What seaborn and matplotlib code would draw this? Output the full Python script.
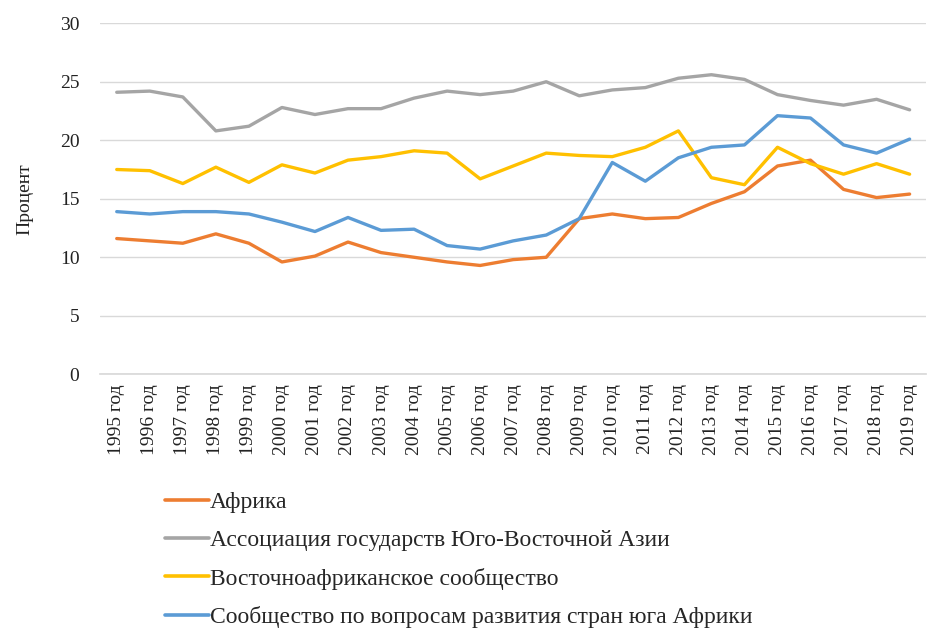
import pandas as pd
import seaborn as sns
import matplotlib.pyplot as plt

years = [f"{y} год" for y in range(1995, 2020)]

africa = [11.6, 11.4, 11.2, 12.0, 11.2, 9.6, 10.1, 11.3, 10.4, 10.0, 9.6, 9.3, 9.8,
          10.0, 13.3, 13.7, 13.3, 13.4, 14.6, 15.6, 17.8, 18.3, 15.8, 15.1, 15.4]
asean = [24.1, 24.2, 23.7, 20.8, 21.2, 22.8, 22.2, 22.7, 22.7, 23.6, 24.2, 23.9, 24.2,
         25.0, 23.8, 24.3, 24.5, 25.3, 25.6, 25.2, 23.9, 23.4, 23.0, 23.5, 22.6]
eac = [17.5, 17.4, 16.3, 17.7, 16.4, 17.9, 17.2, 18.3, 18.6, 19.1, 18.9, 16.7, 17.8,
       18.9, 18.7, 18.6, 19.4, 20.8, 16.8, 16.2, 19.4, 18.0, 17.1, 18.0, 17.1]
sadc = [13.9, 13.7, 13.9, 13.9, 13.7, 13.0, 12.2, 13.4, 12.3, 12.4, 11.0, 10.7, 11.4,
        11.9, 13.3, 18.1, 16.5, 18.5, 19.4, 19.6, 22.1, 21.9, 19.6, 18.9, 20.1]

names = ["Африка",
         "Ассоциация государств Юго-Восточной Азии",
         "Восточноафриканское сообщество",
         "Сообщество по вопросам развития стран юга Африки"]
colors = ["#ED7D31", "#A5A5A5", "#FFC000", "#5B9BD5"]

df = pd.concat([
    pd.DataFrame({"year": years, "value": vals, "series": name})
    for name, vals in zip(names, [africa, asean, eac, sadc])
])

sns.set_theme(style="white")
plt.rcParams["font.family"] = ["Liberation Serif", "DejaVu Serif"]

fig = plt.figure(figsize=(9.28, 6.28), dpi=100)
ax = fig.add_axes([0.108, 0.404, 0.89, 0.559])

sns.lineplot(data=df, x="year", y="value", hue="series", hue_order=names,
             palette=colors, linewidth=2.4, sort=False, ax=ax, legend=False)

ax.set_xlim(-0.5, len(years) - 0.5)
ax.set_ylim(0, 30)
ax.set_yticks(range(0, 31, 5))
ax.yaxis.grid(True, color="#D9D9D9", linewidth=1)
ax.set_axisbelow(True)
for s in ["top", "right", "left"]:
    ax.spines[s].set_visible(False)
ax.spines["bottom"].set_color("#D9D9D9")
ax.tick_params(axis="x", labelrotation=90, labelsize=14, colors="#222222", pad=1)
ax.tick_params(axis="y", labelsize=14, colors="#222222", pad=9)
ax.set_xlabel("")
ax.set_ylabel("Процент", fontsize=14, color="#222222", labelpad=19)

handles = [plt.Line2D([], [], color=c, linewidth=2.6) for c in colors]
fig.legend(handles, names, loc="upper left", bbox_to_anchor=(0.165, 0.236),
           frameon=False, fontsize=17, handlelength=1.85, handletextpad=0.05,
           labelspacing=0.7, borderpad=0)

fig.savefig("out.png", dpi=100)
